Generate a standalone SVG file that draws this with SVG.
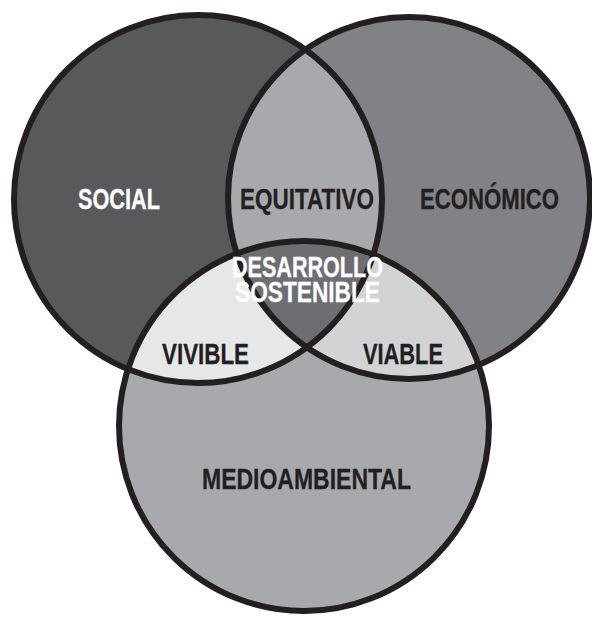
<svg xmlns="http://www.w3.org/2000/svg" width="592" height="617" viewBox="0 0 592 617">
<style>
  .lbl { font-family: "Liberation Sans", "DejaVu Sans", sans-serif; font-weight: bold; font-size: 29px; stroke-width: 0.3; }
  .dark { fill: #231f20; stroke: #231f20; }
  .light { fill: #ffffff; stroke: #ffffff; }
  .ring { fill: none; stroke: #231f20; stroke-width: 6; }
</style>
<defs>
  <circle id="cL" cx="198" cy="199" r="184"/>
  <circle id="cR" cx="409" cy="198" r="181"/>
  <circle id="cB" cx="304" cy="426" r="185"/>
  <clipPath id="clipL"><use href="#cL"/></clipPath>
  <clipPath id="clipR"><use href="#cR"/></clipPath>
  <clipPath id="clipB"><use href="#cB"/></clipPath>
</defs>
<rect width="592" height="617" fill="#ffffff"/>
<g id="social">
  <use href="#cL" fill="#58595b"/>
</g>
<g id="economico">
  <use href="#cR" fill="#808285"/>
</g>
<g id="medioambiental">
  <use href="#cB" fill="#a7a9ac"/>
</g>
<g id="equitativo" clip-path="url(#clipL)">
  <use href="#cR" fill="#a7a9ac"/>
</g>
<g id="vivible" clip-path="url(#clipL)">
  <use href="#cB" fill="#e6e7e8"/>
</g>
<g id="viable" clip-path="url(#clipR)">
  <use href="#cB" fill="#d1d3d4"/>
</g>
<g id="desarrollo" clip-path="url(#clipL)">
  <g clip-path="url(#clipR)">
    <use href="#cB" fill="#6d6e71"/>
  </g>
</g>
<g id="rings">
  <use href="#cL" class="ring"/>
  <use href="#cR" class="ring"/>
  <use href="#cB" class="ring"/>
</g>
<g id="labels">
  <text class="lbl light" x="78" y="209" textLength="82" lengthAdjust="spacingAndGlyphs">SOCIAL</text>
  <text class="lbl dark" x="240" y="209" textLength="134" lengthAdjust="spacingAndGlyphs">EQUITATIVO</text>
  <text class="lbl dark" x="420" y="209" textLength="139" lengthAdjust="spacingAndGlyphs">ECONÓMICO</text>
  <text class="lbl light" x="232" y="277" textLength="151" lengthAdjust="spacingAndGlyphs">DESARROLLO</text>
  <text class="lbl light" x="235" y="302" textLength="145" lengthAdjust="spacingAndGlyphs">SOSTENIBLE</text>
  <text class="lbl dark" x="162" y="364" textLength="87" lengthAdjust="spacingAndGlyphs">VIVIBLE</text>
  <text class="lbl dark" x="363" y="364" textLength="80" lengthAdjust="spacingAndGlyphs">VIABLE</text>
  <text class="lbl dark" x="202" y="489" textLength="209" lengthAdjust="spacingAndGlyphs">MEDIOAMBIENTAL</text>
</g>
</svg>
